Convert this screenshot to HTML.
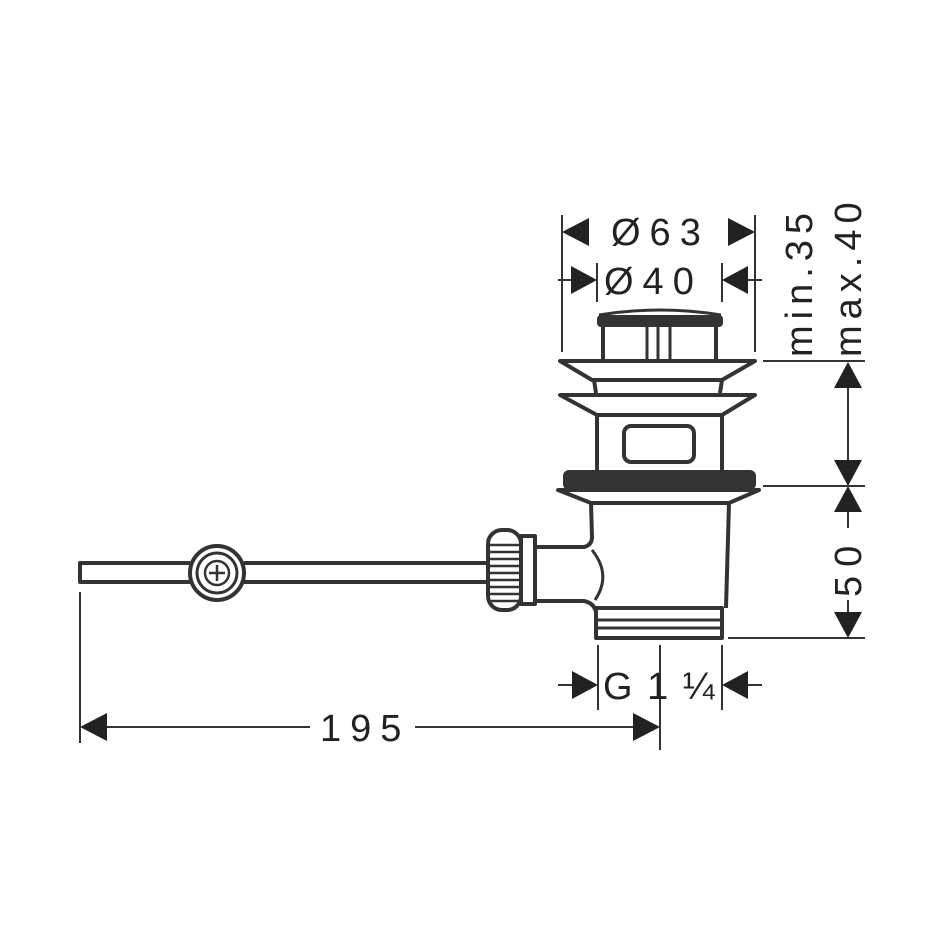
<!DOCTYPE html>
<html><head><style>html,body{margin:0;padding:0;background:#fff}svg{display:block}</style></head><body>
<svg width="950" height="950" viewBox="0 0 950 950" xmlns="http://www.w3.org/2000/svg">
<g fill="none" stroke="#333" stroke-width="4" stroke-linejoin="round">
<path d="M599 315 Q660 305 721 315" stroke-width="3"/>
<rect x="597" y="315" width="126" height="12" rx="4" fill="#333" stroke="none"/>
<path d="M603 327V361 M716 327V361" />
<path d="M647 327V361 M658 327V361 M670 327V361" stroke-width="3"/>
<path d="M560 361H755L722 380H592Z"/>
<path d="M594 380L596 393M722 380L720 393"/>
<path d="M560 395H755L722 415H597Z"/>
<path d="M597 415V470M722 415V470"/>
<rect x="624" y="426" width="70" height="36" rx="7"/>
<rect x="563" y="470" width="193" height="20" rx="6" fill="#333" stroke="none"/>
<path d="M558 490H759L729 503H591Z"/>
<path d="M591 503L592 537Q592 545 584 547H537 M537 601H584Q594 603 596 612 M729 503L726 608"/>
<path d="M592 550Q612 575 595 600" stroke-width="3"/>
<rect x="596" y="608" width="126" height="30"/>
<path d="M596 620H722M596 628H722" stroke-width="3"/>
<rect x="521" y="536" width="14" height="68"/>
<rect x="488" y="530" width="33" height="80" rx="14"/>
<path d="M490 545H519M489 552H520M489 559H520M489 566H520M489 573H520M489 580H520M489 587H520M489 594H520M490 601H519" stroke-width="2.5"/>
<path d="M190 563H80V582H190 M244 563H488 M244 582H488"/>
<circle cx="217" cy="573" r="27"/>
<circle cx="217" cy="573" r="20" stroke-width="3"/>
<circle cx="217" cy="573" r="12" stroke-width="2.5"/>
<path d="M209 573H225M217 565V581" stroke-width="2.5"/>
</g>
<g fill="none" stroke="#333" stroke-width="2">
<path d="M562 215V352M755 215V352M597 263V302M722 263V302"/>
<path d="M558 280H571M748 280H762"/>
<path d="M763 361H865M763 486H865M728 638H865"/>
<path d="M848 388V460M848 512V528M848 600V612"/>
<path d="M598 645V710M722 645V710M660 645V750M80 592V743"/>
<path d="M558 685H572M748 685H762"/>
<path d="M107 727H310M415 727H633"/>
</g>
<g fill="#222">
<path d="M562 232L589 218V246Z"/><path d="M755 232L728 218V246Z"/>
<path d="M597 280L571 266V294Z"/><path d="M722 280L748 266V294Z"/>
<path d="M848 362L834 388H862Z"/>
<path d="M848 486L834 460H862Z"/><path d="M848 486L834 512H862Z"/>
<path d="M848 638L834 612H862Z"/>
<path d="M598 685L572 671V699Z"/><path d="M722 685L748 671V699Z"/>
<path d="M80 727L107 713V741Z"/><path d="M660 727L633 713V741Z"/>
</g>
<g font-family="Liberation Sans, sans-serif" fill="#222" font-size="38" letter-spacing="9">
<text x="611" y="245">Ø63</text>
<text x="604" y="294">Ø40</text>
<text x="603" y="699" letter-spacing="2">G 1 ¼</text>
<text x="320" y="741">195</text>
<text transform="translate(812,357) rotate(-90)" letter-spacing="6">min.35</text>
<text transform="translate(861,357) rotate(-90)" letter-spacing="6">max.40</text>
<text transform="translate(861,597) rotate(-90)">50</text>
</g>
</svg>
</body></html>
